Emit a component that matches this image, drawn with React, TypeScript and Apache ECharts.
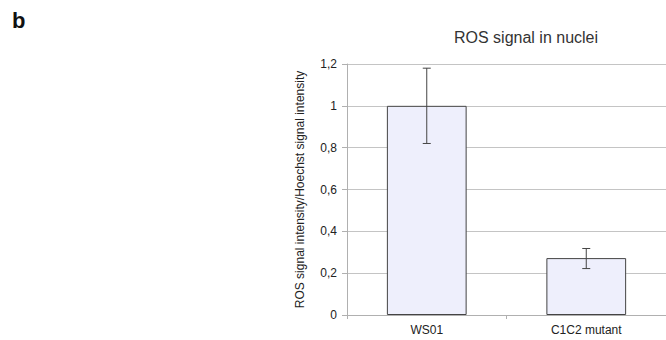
import React, { useEffect, useRef } from "react";
import * as echarts from "echarts";

const categories = ["WS01", "C1C2 mutant"];
const means = [1.0, 0.272];
const errLow = [0.82, 0.222];
const errHigh = [1.18, 0.318];
const yTicks = { min: 0, max: 1.2, interval: 0.2 };

export default function App() {
  const ref = useRef<HTMLDivElement>(null);
  useEffect(() => {
    const chart = echarts.init(ref.current!, null, { renderer: "svg" });
    const font = "Liberation Sans, Arial, sans-serif";
    chart.setOption({
      animation: false,
      backgroundColor: "#ffffff",
      title: {
        text: "ROS signal in nuclei",
        left: 521,
        top: 24,
        textAlign: "center",
        textStyle: { fontFamily: font, fontSize: 16, fontWeight: "normal", color: "#333" },
      },
      graphic: [
        {
          type: "text",
          left: 12,
          top: 9,
          style: { text: "b", font: "bold 22px Liberation Sans, Arial, sans-serif", fill: "#111" },
        },
      ],
      grid: { left: 347, top: 64, width: 324, height: 251, containLabel: false },
      xAxis: {
        type: "category",
        data: categories,
        axisLine: { lineStyle: { color: "#b0b0b0" } },
        axisTick: { show: true, length: 4, lineStyle: { color: "#b0b0b0" } },
        axisLabel: { margin: 9, fontFamily: font, fontSize: 12, color: "#222" },
      },
      yAxis: {
        type: "value",
        min: yTicks.min,
        max: yTicks.max,
        interval: yTicks.interval,
        name: "ROS signal intensity/Hoechst signal intensity",
        nameLocation: "middle",
        nameGap: 41,
        nameTextStyle: { fontFamily: font, fontSize: 12, color: "#222" },
        axisLine: { show: true, lineStyle: { color: "#b0b0b0" } },
        axisTick: { show: true, length: 5, lineStyle: { color: "#b0b0b0" } },
        splitLine: { lineStyle: { color: "#c4c4c4" } },
        axisLabel: {
          margin: 10,
          fontFamily: font,
          fontSize: 12,
          color: "#222",
          formatter: (v: number) => String(Math.round(v * 10) / 10).replace(".", ","),
        },
      },
      series: [
        {
          type: "bar",
          data: means,
          barWidth: "50%",
          itemStyle: { color: "#eeeffc", borderColor: "#444", borderWidth: 1 },
        },
        {
          type: "custom",
          data: categories.map((_, i) => [i, errLow[i], errHigh[i]]),
          renderItem: (params: any, api: any) => {
            const x = api.value(0);
            const lo = api.coord([x, api.value(1)]);
            const hi = api.coord([x, api.value(2)]);
            const w = 4;
            const style = { stroke: "#444", lineWidth: 1 };
            return {
              type: "group",
              children: [
                { type: "line", shape: { x1: lo[0], y1: lo[1], x2: hi[0], y2: hi[1] }, style },
                { type: "line", shape: { x1: lo[0] - w, y1: lo[1], x2: lo[0] + w, y2: lo[1] }, style },
                { type: "line", shape: { x1: hi[0] - w, y1: hi[1], x2: hi[0] + w, y2: hi[1] }, style },
              ],
            };
          },
          z: 3,
        },
      ],
    });
    return () => chart.dispose();
  }, []);
  return <div ref={ref} style={{ width: 666, height: 340, position: "absolute", left: 0, top: 0 }} />;
}
